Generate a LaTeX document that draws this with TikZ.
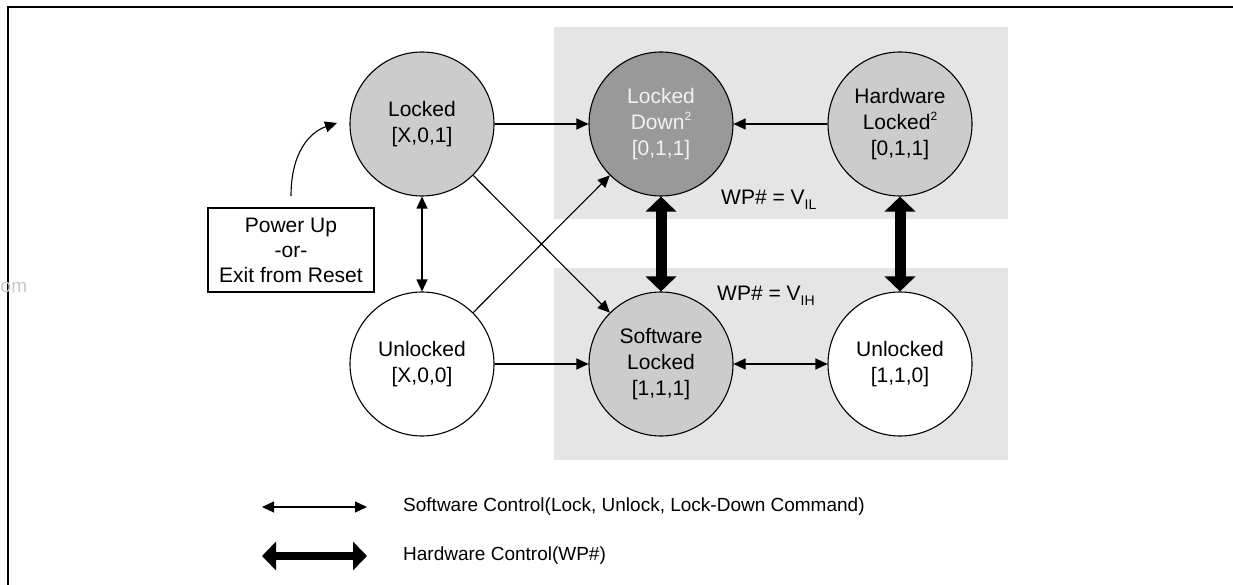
\documentclass[tikz,border=0pt]{standalone}
\usepackage{fontspec}
\setmainfont{Liberation Sans}
\usetikzlibrary{arrows.meta}
\definecolor{boxgray}{HTML}{E5E5E5}
\definecolor{litegray}{HTML}{CCCCCC}
\definecolor{darkgray}{HTML}{999999}
\definecolor{ldtext}{HTML}{F2F2F2}
\definecolor{wmgray}{HTML}{C8C8C8}
\newcommand{\supii}{\raisebox{0.42em}{\fontsize{12}{12}\selectfont 2}}
\newcommand{\subtxt}[1]{\raisebox{-0.25em}{\fontsize{14}{14}\selectfont #1}}
\tikzset{
  state/.style={circle, draw, line width=1.1pt, minimum size=144pt, inner sep=0pt,
    align=center, font=\fontsize{21}{26}\selectfont},
  thin arrow/.style={line width=1.1pt, -{Triangle[length=12pt,width=11pt]}},
  thin both/.style={line width=1.1pt, {Triangle[length=12pt,width=11pt]}-{Triangle[length=12pt,width=11pt]}},
  thick both/.style={line width=11pt, {Triangle[length=15pt,width=30pt]}-{Triangle[length=15pt,width=30pt]}},
  legend thick/.style={line width=8pt, {Triangle[length=14pt,width=28pt]}-{Triangle[length=14pt,width=28pt]}},
  label text/.style={font=\fontsize{19}{25}\selectfont, inner sep=0pt},
  wp text/.style={font=\fontsize{21}{25}\selectfont, inner sep=0pt}
}
\begin{document}
\begin{tikzpicture}[x=1pt,y=-1pt]
\useasboundingbox (0,0) rectangle (1233,585);
% frame
\draw[line width=2.5pt] (8,585) -- (8,7) -- (1233,7);
% watermark fragment
\node[label text, text=wmgray, anchor=west] (wm) at (0.5,287) {om};
% shaded regions
\fill[boxgray] (554,27) rectangle (1008,219);
\fill[boxgray] (554,268) rectangle (1008,460);
% states
\node[state, fill=litegray] (L1) at (422,124) {Locked\\{}[X,0,1]};
\node[state, fill=darkgray, text=ldtext] (LD) at (661,124) {Locked\\Down\supii\\{}[0,1,1]};
\node[state, fill=litegray] (HL) at (900,124) {Hardware\\Locked\supii\\{}[0,1,1]};
\node[state, fill=white] (U1) at (422,364) {Unlocked\\{}[X,0,0]};
\node[state, fill=litegray] (SL) at (661,364) {Software\\Locked\\{}[1,1,1]};
\node[state, fill=white] (U2) at (900,364) {Unlocked\\{}[1,1,0]};
% power up box
\node[draw, line width=1.1pt, minimum width=166pt, minimum height=84pt, inner sep=0pt,
  align=center, font=\fontsize{21}{25}\selectfont] (PU) at (291,250) {Power Up\\-or-\\Exit from Reset};
\coordinate (PUs) at (291,196);
\coordinate (PUe) at (337,123);
\draw[thin arrow] (PUs) .. controls (291,152) and (310,132) .. (PUe);
% WP labels
\node[wp text, anchor=west] (VIL) at (721,200) {WP\# = V\subtxt{IL}};
\node[wp text, anchor=west] (VIH) at (717,296) {WP\# = V\subtxt{IH}};
% software transitions
\draw[thin arrow] (L1) -- (LD);
\draw[thin arrow] (HL) -- (LD);
\draw[thin both] (L1) -- (U1);
\draw[thin arrow] (U1) -- (SL);
\draw[thin arrow] (U1) -- (LD);
\draw[thin arrow] (L1) -- (SL);
\draw[thin both] (SL) -- (U2);
% hardware transitions
\draw[thick both] (LD) -- (SL);
\draw[thick both] (HL) -- (U2);
% legend
\coordinate (A1) at (262,507);
\coordinate (A2) at (367,507);
\coordinate (B1) at (262,556);
\coordinate (B2) at (367,556);
\draw[thin both] (A1) -- (A2);
\draw[legend thick] (B1) -- (B2);
\node[label text, anchor=west] (T1) at (403,507) {Software Control(Lock, Unlock, Lock-Down Command)};
\node[label text, anchor=west] (T2) at (403,556) {Hardware Control(WP\#)};
\end{tikzpicture}
\end{document}
